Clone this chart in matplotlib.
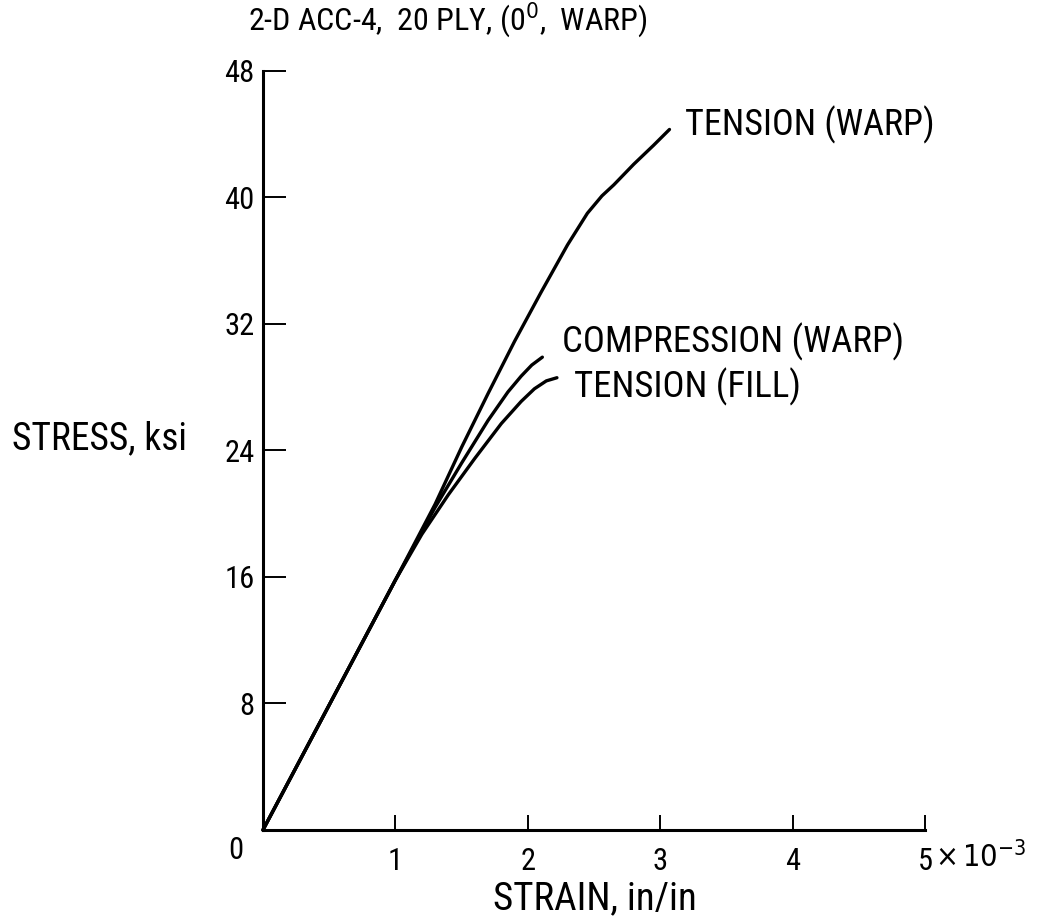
import numpy as np
import matplotlib
matplotlib.use('Agg')
import matplotlib.pyplot as plt

plt.rcParams['font.family'] = ['Roboto Condensed', 'DejaVu Sans']
plt.rcParams['font.stretch'] = 'condensed'

#DATA (strain in 1e-3 in/in, stress in ksi)
tension_warp_x = [0, 0.5, 1.0, 1.3, 1.5, 1.7, 1.9, 2.1, 2.3, 2.45, 2.56, 2.65, 2.8, 2.95, 3.07]
tension_warp_y = [0, 7.9, 15.8, 20.6, 24.2, 27.6, 30.9, 34.0, 37.0, 39.0, 40.1, 40.8, 42.1, 43.3, 44.3]

compression_warp_x = [0, 0.5, 1.0, 1.3, 1.5, 1.7, 1.85, 1.95, 2.03, 2.11]
compression_warp_y = [0, 7.9, 15.8, 20.4, 23.2, 25.9, 27.7, 28.7, 29.4, 29.9]

tension_fill_x = [0, 0.5, 1.0, 1.2, 1.4, 1.6, 1.8, 1.95, 2.05, 2.14, 2.22]
tension_fill_y = [0, 7.9, 15.8, 18.7, 21.2, 23.5, 25.7, 27.1, 27.9, 28.4, 28.6]

x_ticks = [0, 1, 2, 3, 4, 5]
x_tick_labels = ['', '1', '2', '3', '4', '5']
y_ticks = [0, 8, 16, 24, 32, 40, 48]
y_tick_labels = ['', '8', '16', '24', '32', '40', '48']

fig = plt.figure(figsize=(10.41, 9.18), dpi=100)
ax = fig.add_axes([0.2526, 0.0959, 0.636, 0.8268])

lw = 2.4
for xs, ys in [(tension_warp_x, tension_warp_y),
               (compression_warp_x, compression_warp_y),
               (tension_fill_x, tension_fill_y)]:
    ax.plot(xs, ys, color='black', lw=lw, solid_capstyle='round',
            solid_joinstyle='round', clip_on=False)

ax.set_xlim(0, 5)
ax.set_ylim(0, 48)

#axes look
for s in ['top', 'right']:
    ax.spines[s].set_visible(False)
for s in ['left', 'bottom']:
    ax.spines[s].set_linewidth(2.2)

ax.set_xticks(x_ticks)
ax.set_xticklabels(x_tick_labels)
ax.set_yticks(y_ticks)
ax.set_yticklabels(y_tick_labels)
ax.tick_params(axis='x', direction='in', length=11, width=1.4, pad=12, labelsize=22)
ax.tick_params(axis='y', direction='in', length=16.5, width=1.4, pad=6, labelsize=22)

#shared zero and exponent
ax.annotate('0', xy=(0, 0), xytext=(-27, -21), textcoords='offset pixels',
            ha='center', va='center', fontsize=22)
ax.annotate(r'$\times\,10^{-3}$', xy=(5, 0), xytext=(10, -27), textcoords='offset pixels',
            ha='left', va='center', fontsize=22)

#curve labels
ax.text(3.19, 44.6, 'TENSION (WARP)', fontsize=26, ha='left', va='center')
ax.text(2.26, 30.9, 'COMPRESSION (WARP)', fontsize=26.5, ha='left', va='center')
ax.text(2.35, 28.0, 'TENSION (FILL)', fontsize=26.5, ha='left', va='center')

#titles
fig.text(248 / 1041, 1 - 31 / 918, r'2-D ACC-4,  20 PLY, (0$^{0}$,  WARP)',
         fontsize=23, ha='left', va='baseline')
fig.text(12 / 1041, 1 - 439 / 918, 'STRESS, ksi', fontsize=27, ha='left', va='center')
fig.text(595 / 1041, 1 - 899 / 918, 'STRAIN, in/in', fontsize=28, ha='center', va='center')

fig.savefig('out.png', dpi=100)
